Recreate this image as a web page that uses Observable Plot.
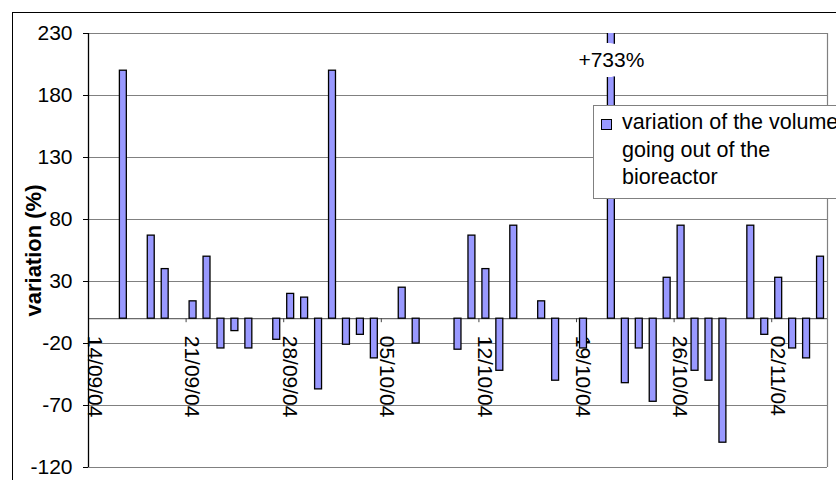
<!DOCTYPE html>
<html>
<head>
<meta charset="utf-8">
<script src="https://cdn.jsdelivr.net/npm/d3@7"></script>
<script src="https://cdn.jsdelivr.net/npm/@observablehq/plot@0.6"></script>
<style>
  html, body { margin: 0; padding: 0; background: #fff; overflow: hidden; width: 836px; height: 480px; }
  #wrap { position: relative; width: 836px; height: 480px; overflow: hidden; font-family: "Liberation Sans", Arial, sans-serif; }
  #chart { position: absolute; left: 0; top: 0; z-index: 1; }
  #border { position: absolute; left: 12px; top: 12px; width: 1000px; height: 1000px; border-left: 1.5px solid #000; border-top: 1.5px solid #000; pointer-events: none; z-index: 2; }
  #legend { position: absolute; left: 593px; top: 105px; width: 320px; height: 94px; box-sizing: border-box; border: 1px solid #808080; background: #fff; z-index: 3; }
  #sw { position: absolute; left: 7px; top: 13px; width: 11px; height: 11px; box-sizing: border-box; border: 1.5px solid #000; background: #9999ff; }
  #lt { position: absolute; left: 28px; top: 3px; font-size: 21.5px; line-height: 27.5px; white-space: nowrap; color: #000; }
</style>
</head>
<body>
<div id="wrap">
  <div id="chart"></div>
  <div id="border"></div>
  <div id="legend"><div id="sw"></div><div id="lt"></div></div>
</div>
<script>
// ---- data ----
const dates = [
  "2004-09-16","2004-09-18","2004-09-19","2004-09-21","2004-09-22","2004-09-23","2004-09-24","2004-09-25",
  "2004-09-27","2004-09-28","2004-09-29","2004-09-30","2004-10-01","2004-10-02","2004-10-03","2004-10-04",
  "2004-10-06","2004-10-07","2004-10-10","2004-10-11","2004-10-12","2004-10-13","2004-10-14","2004-10-16",
  "2004-10-17","2004-10-19","2004-10-21","2004-10-22","2004-10-23","2004-10-24","2004-10-25","2004-10-26",
  "2004-10-27","2004-10-28","2004-10-29","2004-10-31","2004-11-01","2004-11-02","2004-11-03","2004-11-04",
  "2004-11-05"
];
const values = [
  200, 67, 40, 14, 50, -24, -10, -24,
  -17, 20, 17, -57, 200, -21, -13, -32,
  25, -20, -25, 67, 40, -42, 75, 14,
  -50, -24, 733, -52, -24, -67, 33, 75,
  -42, -50, -100, 75, -13, 33, -24, -32,
  50
];
const yTicks = [230, 180, 130, 80, 30, -20, -70, -120];
const xTickDates = ["2004-09-14","2004-09-21","2004-09-28","2004-10-05","2004-10-12","2004-10-19","2004-10-26","2004-11-02"];
const xDomain = ["2004-09-14", "2004-11-06"];
const annotations = [{date: "2004-10-21", label: "+733%"}];
const legendLines = ["variation of the volume", "going out of the", "bioreactor"];
const yLabel = "variation (%)";

// ---- build ----
const parse = d3.utcParse("%Y-%m-%d");
const fmt = d3.utcFormat("%d/%m/%y");
const rows = dates.map((d, i) => ({date: parse(d), value: values[i]}));
const ticks = xTickDates.map(parse);
const dom = xDomain.map(parse);

const plot = Plot.plot({
  width: 836,
  height: 480,
  marginLeft: 88,
  marginRight: 9,
  marginTop: 33,
  marginBottom: 13,
  style: {fontFamily: "Liberation Sans, Arial, sans-serif", fontSize: "21px", background: "transparent", color: "black"},
  x: {type: "utc", domain: dom, axis: null},
  y: {domain: [-120, 230], axis: null},
  marks: [
    Plot.ruleY(yTicks, {stroke: "#808080", strokeWidth: 1.2}),
    Plot.ruleX([dom[1]], {stroke: "#808080", strokeWidth: 1.2}),
    Plot.ruleY([0], {stroke: "#6a6a6a", strokeWidth: 1.2}),
    Plot.text(ticks, {x: d => d, y: 0, text: d => fmt(d), rotate: 90, textAnchor: "start", lineAnchor: "bottom", dy: 17, dx: -1, fontSize: 21, fill: "black"}),
    Plot.ruleX(ticks, {x: d => d, y1: 0, y2: 0, insetBottom: -4, stroke: "#444"}),
    Plot.rectY(rows, {
      x1: "date", x2: d => d3.utcDay.offset(d.date, 1), y1: 0, y2: "value",
      insetLeft: 3.5, insetRight: 3.5, fill: "#9999ff", stroke: "black", strokeWidth: 1.3, clip: true
    }),
    Plot.ruleX([dom[0]], {stroke: "black", strokeWidth: 1.3}),
    Plot.axisY({ticks: yTicks, tickSize: 5, tickPadding: 11, tickFormat: d => String(d), fontSize: 21, label: null}),
    Plot.text([yLabel], {text: d => d, frameAnchor: "left", textAnchor: "middle", dx: -55, rotate: -90, fontWeight: "bold", fontSize: 22, fill: "black"}),
    Plot.text(annotations, {
      x: d => d3.utcHour.offset(parse(d.date), 12), y: yTicks[0], text: "label",
      dy: 27, lineAnchor: "middle", stroke: "white", strokeWidth: 20, fill: "black", fontSize: 21
    })
  ]
});
document.getElementById("chart").appendChild(plot);
document.getElementById("lt").innerHTML = legendLines.map(s => s.replace(/&/g, "&amp;").replace(/</g, "&lt;")).join("<br>");
</script>
</body>
</html>
